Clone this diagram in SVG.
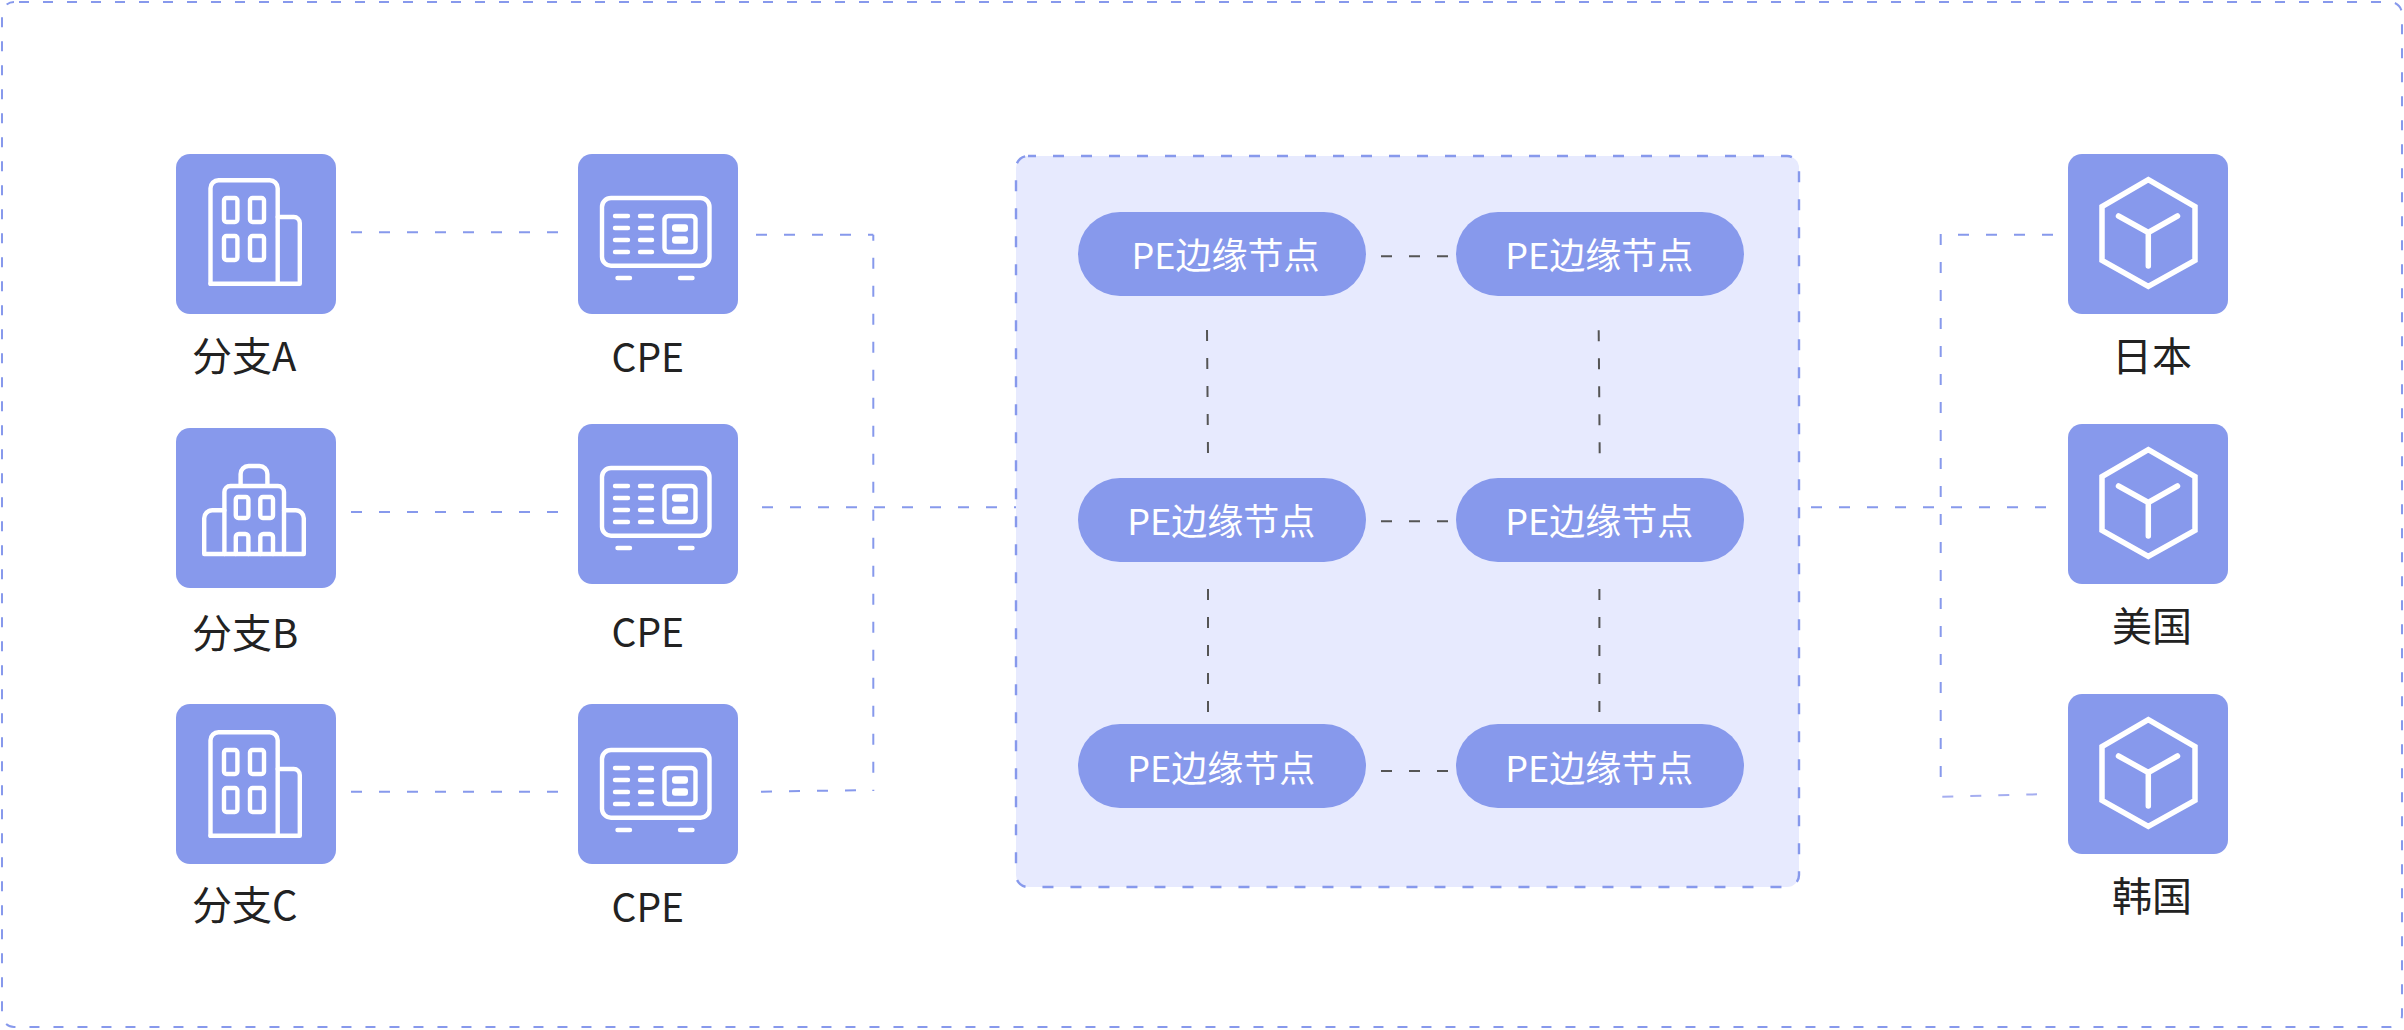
<svg xmlns="http://www.w3.org/2000/svg" width="2404" height="1030" viewBox="0 0 2404 1030">
<style>
.sq{fill:#8799EC}
.ic{fill:none;stroke:#fff;stroke-width:4.4;stroke-linecap:round;stroke-linejoin:round}
.cube{fill:none;stroke:#fff;stroke-width:5.5;stroke-linecap:round;stroke-miterlimit:10}
.pill{fill:#8799EC}
.lb{font-family:"Noto Sans CJK SC","Noto Sans",sans-serif;font-size:40px;fill:#222}
.cpe{font-family:"Noto Sans CJK SC","Noto Sans",sans-serif;font-size:39px;fill:#222}
.pt{font-family:"Noto Sans CJK SC","Noto Sans",sans-serif;font-size:36px;fill:#fff}
.blue{fill:none;stroke:#8799EC;stroke-width:2;stroke-dasharray:11 17}
.dark{fill:none;stroke:#555;stroke-width:2;stroke-dasharray:11 17}
</style>
<defs>
<g id="ic-b1" class="ic">
<path d="M34.5 129.7V34.3a8 8 0 0 1 8-8H93.7a8 8 0 0 1 8 8V129.7"/>
<path d="M34.5 129.7H123.8V69a6 6 0 0 0-6-6H101.7"/>
<rect x="48" y="44" width="13.4" height="24" rx="2.5"/>
<rect x="74" y="44" width="14" height="24" rx="2.5"/>
<rect x="48" y="82" width="13.4" height="24" rx="2.5"/>
<rect x="74" y="82" width="14" height="24" rx="2.5"/>
</g>
<g id="ic-b2" class="ic">
<path d="M64.6 56.7V46a8 8 0 0 1 8-8H83.4a8 8 0 0 1 8 8V56.7"/>
<path d="M48.4 126V64a6 6 0 0 1 6-6H102a6 6 0 0 1 6 6V126"/>
<path d="M48.4 82.3H36.2a8 8 0 0 0-8 8V126H127.8V90.3a8 8 0 0 0-8-8H108"/>
<rect x="59.8" y="69" width="12.6" height="21" rx="2.5"/>
<rect x="84.3" y="69" width="12.7" height="21" rx="2.5"/>
<path d="M59.8 126V109a3 3 0 0 1 3-3H69.4a3 3 0 0 1 3 3V126"/>
<path d="M84.3 126V109a3 3 0 0 1 3-3H94a3 3 0 0 1 3 3V126"/>
</g>
<g id="ic-cpe">
<g class="ic">
<rect x="24" y="44" width="107.5" height="67.7" rx="9"/>
<path d="M37 62H50M37 74H50M37 86H50M37 98H50M62 62H74M62 74H74M62 86H74M62 98H74"/>
<rect x="86.5" y="62" width="31" height="36" rx="4"/>
<path d="M39.5 124H52M102 124H114.5"/>
</g>
<rect x="94" y="70.3" width="16" height="7.4" rx="3" fill="#fff"/>
<rect x="94" y="82.3" width="16" height="7.4" rx="3" fill="#fff"/>
</g>
<g id="ic-cube" class="cube">
<path d="M80.3 25.6L127 52.5V106.5L80.3 132.4L34 106.5V52.5Z"/>
<path d="M50.5 62L80.3 78.5L109.5 62M80.3 78.5V112"/>
</g>
<rect id="tile" class="sq" width="160" height="160" rx="14"/>
<rect id="pe" class="pill" width="288" height="84" rx="42"/>
</defs>
<rect width="2404" height="1030" fill="#fff"/>
<rect id="frame" x="2" y="2" width="2400" height="1025" rx="12" fill="none" stroke="#8799EC" stroke-width="2" stroke-dasharray="10 14" stroke-dashoffset="-5"/>
<g id="node-pe-region"><rect x="1016" y="156" width="783" height="731" rx="12" fill="#E7EAFE" stroke="#8799EC" stroke-width="2.4" stroke-dasharray="11 17" stroke-dashoffset="3"/></g>
<g id="connectors">
<path class="blue" d="M351 232.3H559"/>
<path class="blue" d="M351 512H559"/>
<path class="blue" d="M351 791.7H559"/>
<path class="blue" d="M756 234.7H873.3"/>
<path class="blue" d="M873.3 234.7V791" stroke-dashoffset="5"/>
<path class="blue" d="M761 791.7L873 790"/>
<path class="blue" d="M762 507.3H1016"/>
<path class="blue" d="M1811 507.3H2046"/>
<path class="blue" d="M1940.7 234V780"/>
<path class="blue" d="M1958 234.7H2054"/>
<path class="blue" d="M1942.3 796.7L2037 794.3" style="stroke:#A5AEF0"/>
<path class="dark" d="M1207 330L1208 454"/>
<path class="dark" d="M1598.7 330.3L1599.7 454"/>
<path class="dark" d="M1208 589V713"/>
<path class="dark" d="M1599.4 589V713"/>
<path class="dark" d="M1381 256.3H1448"/>
<path class="dark" d="M1381 521.3H1448"/>
<path class="dark" d="M1381 771H1448"/>
</g>
<g id="node-branch-a"><use href="#tile" x="176" y="154"/><use href="#ic-b1" x="176" y="154"/><text class="lb" x="192" y="371">分支A</text></g>
<g id="node-branch-b"><use href="#tile" x="176" y="428"/><use href="#ic-b2" x="176" y="428"/><text class="lb" x="192" y="647.5">分支B</text></g>
<g id="node-branch-c"><use href="#tile" x="176" y="704"/><use href="#ic-b1" x="176" y="706"/><text class="lb" x="192" y="920.2">分支C</text></g>
<g id="node-cpe-1"><use href="#tile" x="578" y="154"/><use href="#ic-cpe" x="578" y="154"/><text class="cpe" x="611.5" y="371.7">CPE</text></g>
<g id="node-cpe-2"><use href="#tile" x="578" y="424"/><use href="#ic-cpe" x="578" y="424"/><text class="cpe" x="611.5" y="646.7">CPE</text></g>
<g id="node-cpe-3"><use href="#tile" x="578" y="704"/><use href="#ic-cpe" x="578" y="706"/><text class="cpe" x="611.5" y="921.7">CPE</text></g>
<g id="node-pe-1"><use href="#pe" x="1078" y="212"/><text class="pt" x="1131.5" y="269.3">PE边缘节点</text></g>
<g id="node-pe-2"><use href="#pe" x="1456" y="212"/><text class="pt" x="1505.2" y="269.3">PE边缘节点</text></g>
<g id="node-pe-3"><use href="#pe" x="1078" y="478"/><text class="pt" x="1127.2" y="535.3">PE边缘节点</text></g>
<g id="node-pe-4"><use href="#pe" x="1456" y="478"/><text class="pt" x="1505.2" y="535.3">PE边缘节点</text></g>
<g id="node-pe-5"><use href="#pe" x="1078" y="724"/><text class="pt" x="1127.2" y="781.7">PE边缘节点</text></g>
<g id="node-pe-6"><use href="#pe" x="1456" y="724"/><text class="pt" x="1505.2" y="781.7">PE边缘节点</text></g>
<g id="node-japan"><use href="#tile" x="2068" y="154"/><use href="#ic-cube" x="2068" y="154"/><text class="lb" x="2152" y="371" text-anchor="middle">日本</text></g>
<g id="node-usa"><use href="#tile" x="2068" y="424"/><use href="#ic-cube" x="2068" y="424"/><text class="lb" x="2152" y="641" text-anchor="middle">美国</text></g>
<g id="node-korea"><use href="#tile" x="2068" y="694"/><use href="#ic-cube" x="2068" y="694"/><text class="lb" x="2152" y="911" text-anchor="middle">韩国</text></g>
</svg>
